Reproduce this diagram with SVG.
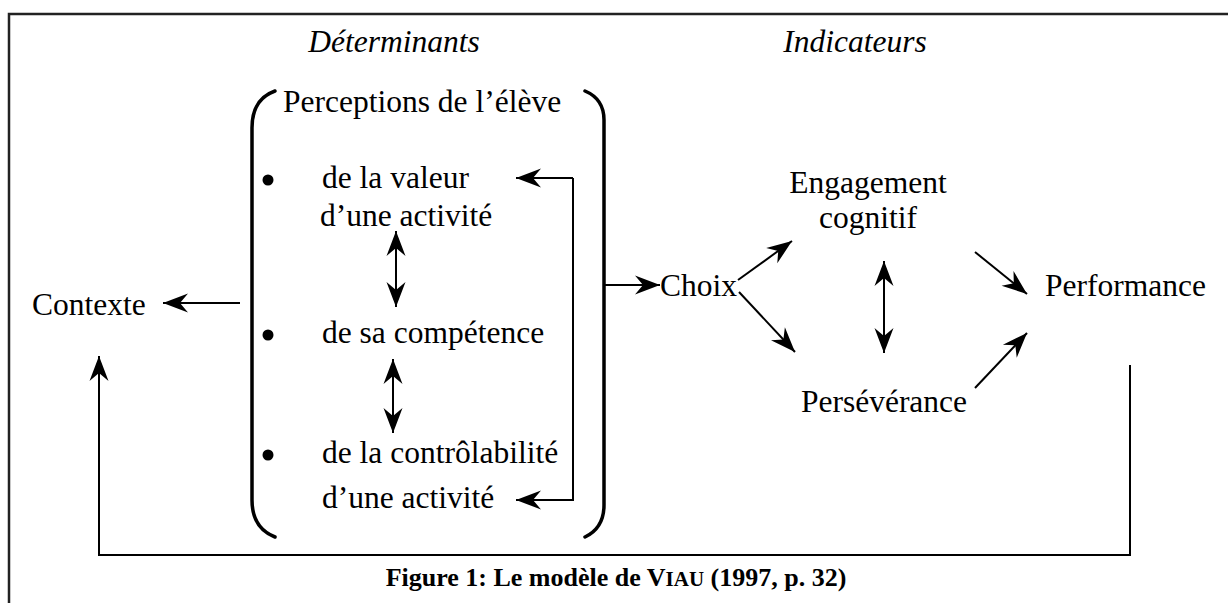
<svg xmlns="http://www.w3.org/2000/svg" width="1228" height="603" viewBox="0 0 1228 603">
  <defs>
    <marker id="head" markerUnits="userSpaceOnUse" markerWidth="32" markerHeight="24" viewBox="-28 -12 30 24" refX="0" refY="0" orient="auto-start-reverse">
      <path d="M0,0 L-25,-9.5 L-17,0 L-25,9.5 Z" fill="#000"/>
    </marker>
    <style>
      text { font-family: "Liberation Serif", "Times New Roman", serif; fill: #000; }
      .body { font-size: 31.5px; }
      .head { font-size: 31.5px; font-style: italic; }
      .cap { font-size: 26px; font-weight: bold; }
      .sc { font-size: 21px; }
      .frame { fill: none; stroke: #222; stroke-width: 2.5; }
      .brace { fill: none; stroke: #000; stroke-width: 3.5; stroke-linecap: round; }
      .link { fill: none; stroke: #000; stroke-width: 2; }
      .arrow { marker-end: url(#head); }
      .both { marker-start: url(#head); marker-end: url(#head); }
    </style>
  </defs>
  <rect width="1228" height="603" fill="#fff"/>

  <!-- page frame -->
  <path class="frame" d="M9,603 L9,14 L1228,14"/>

  <!-- column headings -->
  <g id="heading-determinants">
    <text class="head" x="394" y="52" text-anchor="middle">Déterminants</text>
  </g>
  <g id="heading-indicateurs">
    <text class="head" x="855" y="52" text-anchor="middle">Indicateurs</text>
  </g>

  <!-- student perceptions, enclosed in large brackets -->
  <g id="perceptions">
    <path class="brace" d="M275,91 Q252,99 252,128 L252,500 Q252,528 275,537"/>
    <path class="brace" d="M585,91 Q604,99 604,120 L604,505 Q604,528 585,537"/>
    <text class="body" x="283" y="112">Perceptions de l’élève</text>
    <circle cx="268" cy="180" r="5.5"/>
    <text class="body" x="322" y="188">de la valeur</text>
    <text class="body" x="320" y="226">d’une activité</text>
    <circle cx="268" cy="335" r="5.5"/>
    <text class="body" x="322" y="343">de sa compétence</text>
    <circle cx="268" cy="455" r="5.5"/>
    <text class="body" x="322" y="463">de la contrôlabilité</text>
    <text class="body" x="322" y="508">d’une activité</text>
  </g>

  <g id="contexte">
    <text class="body" x="32" y="315">Contexte</text>
  </g>
  <g id="choix">
    <text class="body" x="660" y="296">Choix</text>
  </g>
  <g id="engagement">
    <text class="body" x="868" y="193" text-anchor="middle">Engagement</text>
    <text class="body" x="868" y="228" text-anchor="middle">cognitif</text>
  </g>
  <g id="perseverance">
    <text class="body" x="884" y="412" text-anchor="middle">Persévérance</text>
  </g>
  <g id="performance">
    <text class="body" x="1045" y="296">Performance</text>
  </g>

  <!-- connectors -->
  <g id="connectors">
    <path class="link both" d="M396,231 L396,307"/>
    <path class="link both" d="M393,359 L393,433"/>
    <path class="link arrow" d="M573,178 L516,178"/>
    <path class="link arrow" d="M573,178 L573,500 L516,500"/>
    <path class="link arrow" d="M240,303 L163,303"/>
    <path class="link arrow" d="M1130,365 L1130,555 L99,555 L99,356"/>
    <path class="link arrow" d="M604,285 L660,285"/>
    <path class="link arrow" d="M738,280 L792,241"/>
    <path class="link arrow" d="M739,292 L795,352"/>
    <path class="link both" d="M884,261 L884,353"/>
    <path class="link arrow" d="M975,252 L1027,294"/>
    <path class="link arrow" d="M975,388 L1027,333"/>
  </g>

  <g id="caption">
    <text class="cap" x="616" y="586" text-anchor="middle">Figure 1: Le modèle de V<tspan class="sc">IAU</tspan> (1997, p. 32)</text>
  </g>
</svg>
